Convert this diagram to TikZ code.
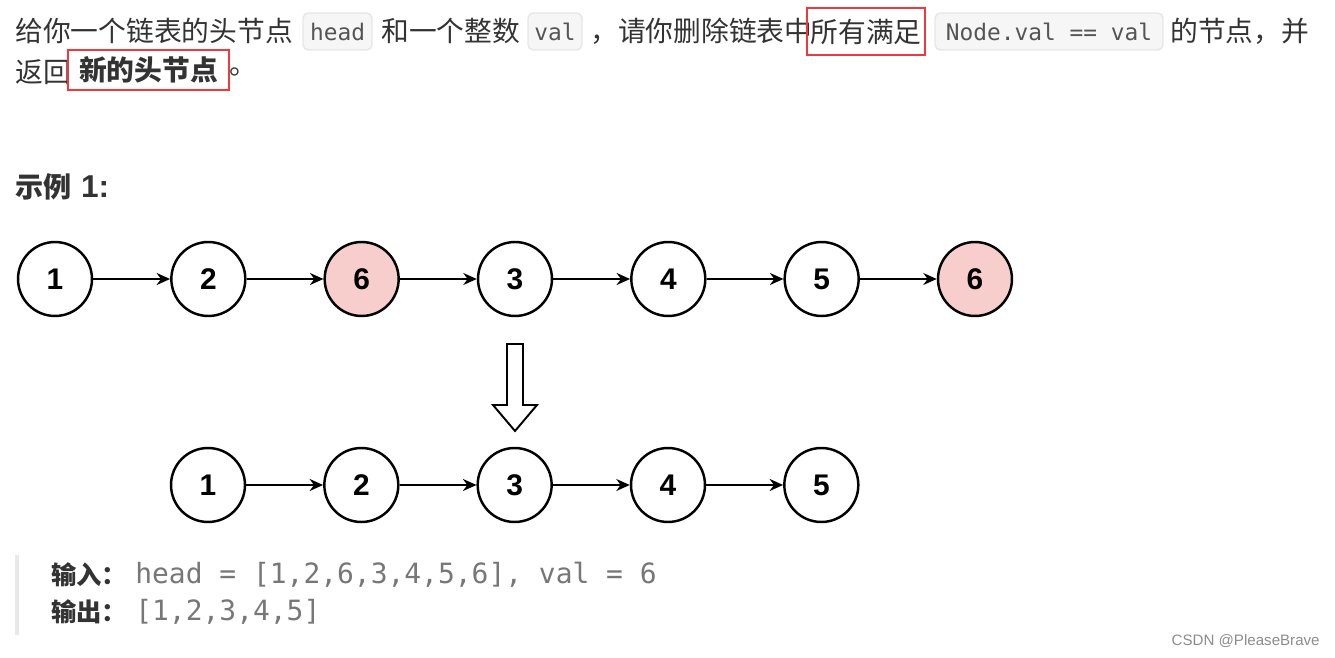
\documentclass[tikz,border=0pt]{standalone}
\usepackage{fontspec}
\setmainfont{Liberation Sans}
\setmonofont{DejaVu Sans Mono}
\newfontfamily\cjk{Noto Sans CJK SC}
\usetikzlibrary{arrows.meta,positioning}
\definecolor{bodytxt}{HTML}{333333}
\definecolor{codetxt}{HTML}{555555}
\definecolor{codebg}{HTML}{F6F6F6}
\definecolor{codeline}{HTML}{E6E6E6}
\definecolor{markred}{HTML}{F0383F}
\definecolor{delfill}{HTML}{F8CECC}
\definecolor{quotebar}{HTML}{E8E8E8}
\tikzset{
  txt/.style={anchor=west, inner sep=0pt, text=bodytxt, font=\cjk\fontsize{15.8}{19}\selectfont},
  boldtxt/.style={txt, font=\cjk\bfseries\fontsize{14.4}{18}\selectfont},
  code/.style={draw=codeline, fill=codebg, rounded corners=3pt, line width=0.8pt, inner sep=0pt,
    minimum height=0.74cm, text=codetxt, font=\ttfamily\fontsize{13}{15}\selectfont},
  redmark/.style={draw=markred, line width=1.2pt, inner sep=0pt},
  lnode/.style={circle, draw, line width=1.4pt, minimum size=1.48cm, fill=white,
    font=\bfseries\fontsize{17}{20}\selectfont},
  link/.style={-{Stealth[length=2.7mm,width=2.4mm]}, line width=1.1pt},
  sample/.style={anchor=west, inner sep=0pt, text=codetxt!80, font=\ttfamily\fontsize{15.9}{19}\selectfont}
}
\begin{document}
\begin{tikzpicture}[x=0.02cm, y=-0.02cm]
  \useasboundingbox (0,0) rectangle (1335,658);
  % Problem text, line 1
  \node[txt] (t1) at (15,31) {给你一个链表的头节点};
  \node[code, minimum width=1.38cm] (chead) at (337.5,31.5) {head};
  \node[txt] (t2) at (381,31) {和一个整数};
  \node[code, minimum width=1.08cm] (cval) at (555,31.5) {val};
  \node[txt] (t3) at (590,31) {，请你删除链表中};
  \node[txt, anchor=center, redmark, minimum width=2.36cm, minimum height=0.94cm] (r1) at (866,31.5) {所有满足};
  \node[code, minimum width=4.56cm] (cnode) at (1049,31.5) {Node.val == val};
  \node[txt] (t4) at (1170,31) {的节点，并};
  % line 2
  \node[txt] (t5) at (15,72) {返回};
  \node[txt, anchor=center, redmark, minimum width=3.22cm, minimum height=0.8cm,
    font=\cjk\bfseries\fontsize{15.8}{19}\selectfont] (r2) at (148.5,70) {新的头节点};
  \node[txt] (t6) at (229,72) {。};

  % Example heading
  \node[txt, font=\bfseries\fontsize{18}{20}\selectfont] (ex) at (15,187)
    {{\cjk\fontsize{16}{19}\selectfont 示例}\hspace{0.3em}1:};

  % Input list
  \foreach \i/\v/\c in {1/1/white,2/2/white,3/6/delfill,4/3/white,5/4/white,6/5/white,7/6/delfill} {
    \node[lnode, fill=\c] (a\i) at ({55+153.33*(\i-1)},279) {\v};
  }
  \foreach \i [evaluate=\i as \j using int(\i+1)] in {1,...,6} {
    \draw[link] (a\i) -- (a\j);
  }

  % Hollow arrow down
  \draw[line width=1.1pt, fill=white] (507,344) -- (523,344) -- (523,405) -- (537,405)
    -- (515,431) -- (493,405) -- (507,405) -- cycle;

  % Result list
  \foreach \i/\v in {1/1,2/2,3/3,4/4,5/5} {
    \node[lnode] (b\i) at ({208+153.33*(\i-1)},485) {\v};
  }
  \foreach \i [evaluate=\i as \j using int(\i+1)] in {1,...,4} {
    \draw[link] (b\i) -- (b\j);
  }

  % Input / output block
  \fill[quotebar] (15,555) rectangle (19,635);
  \node[boldtxt] (inlbl) at (51,575) {输入：};
  \node[sample] (inval) at (135,575) {head = [1,2,6,3,4,5,6], val = 6};
  \node[boldtxt] (outlbl) at (51,612) {输出：};
  \node[sample] (outval) at (135,612) {[1,2,3,4,5]};

  % watermark
  \node[anchor=east, inner sep=0pt, text=black!45, font=\fontsize{8.6}{10}\selectfont] (wm) at (1320,641) {CSDN @PleaseBrave};
\end{tikzpicture}
\end{document}
